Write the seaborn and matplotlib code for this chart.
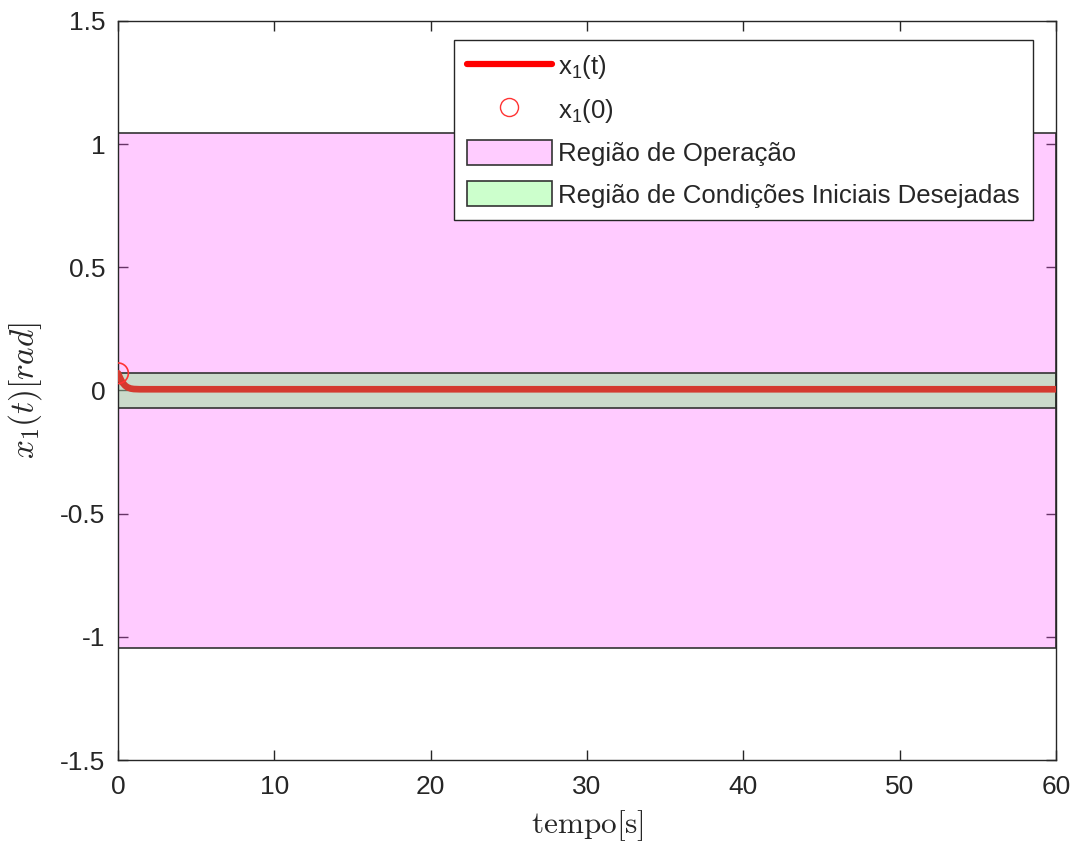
import seaborn as sns
import pandas as pd
import matplotlib as mpl
from matplotlib import pyplot as plt
from matplotlib.lines import Line2D
from matplotlib.patches import Patch

sns.set_theme(style="ticks")
plt.rcParams['font.family'] = ['Liberation Sans', 'DejaVu Sans']
plt.rcParams['mathtext.fontset'] = 'cm'

# state trajectory x1(t)
tempo = [0, 0.1, 0.2, 0.3, 0.45, 0.6, 0.8, 1.0, 1.4, 2, 5, 10, 20, 30, 40, 50, 60]
x1 = [0.07, 0.055, 0.042, 0.031, 0.02, 0.013, 0.008, 0.006, 0.005, 0.005, 0.005,
      0.005, 0.005, 0.005, 0.005, 0.005, 0.005]

# region limits
op_lim = 1.047
ci_lim = 0.07

df = pd.DataFrame({'tempo': tempo, 'x1': x1})

fig = plt.figure(figsize=(10.79, 8.49), dpi=100)
ax = fig.add_axes([0.1094, 0.1048, 0.8693, 0.8705])

ax.fill_between([0, 60], -op_lim, op_lim, facecolor=(1, 0.33, 1), alpha=0.3,
                edgecolor='none', zorder=1)
ax.fill_between([0, 60], -op_lim, op_lim, facecolor='none',
                edgecolor='#333333', linewidth=1.2, zorder=1.5)

ax.fill_between([0, 60], -ci_lim, ci_lim, facecolor=(0.33, 1, 0.33), alpha=0.3,
                edgecolor='none', zorder=2)
ax.fill_between([0, 60], -ci_lim, ci_lim, facecolor='none',
                edgecolor='#333333', linewidth=1.2, zorder=2.5)

sns.lineplot(data=df, x='tempo', y='x1', color='#d43a30', linewidth=4.8, ax=ax,
             zorder=3, legend=False)

sns.scatterplot(x=[tempo[0]], y=[x1[0]], s=220, facecolors='none',
                edgecolors=(1, 0.2, 0.2), linewidth=1.2, ax=ax, zorder=4,
                legend=False)

ax.set_xlim(0, 60)
ax.set_ylim(-1.5, 1.5)
ax.set_xticks([0, 10, 20, 30, 40, 50, 60])
ax.set_yticks([-1.5, -1, -0.5, 0, 0.5, 1, 1.5])
ax.set_yticklabels(['-1.5', '-1', '-0.5', '0', '0.5', '1', '1.5'])
ax.tick_params(direction='in', length=7, width=1, labelsize=19,
               colors='#262626', top=True, right=True)
ax.tick_params(axis='x', pad=11)
ax.tick_params(axis='y', pad=9)
for s in ax.spines.values():
    s.set_color('#262626')
    s.set_linewidth(1)

ax.set_xlabel(r'$\mathrm{tempo[s]}$', fontsize=22.5, color='#262626', labelpad=6)
ax.set_ylabel(r'$x_1(t)[rad]$', fontsize=24, color='#262626', labelpad=12)

handles = [
    Line2D([], [], color='red', linewidth=4.5),
    Line2D([], [], linestyle='none', marker='o', markersize=13,
           markerfacecolor='none', markeredgecolor=(1, 0.2, 0.2)),
    Patch(facecolor='#ffccff', edgecolor='#333333', linewidth=1.2),
    Patch(facecolor='#ccffcc', edgecolor='#333333', linewidth=1.2),
]
labels = [r'$\mathregular{x_1(t)}$', r'$\mathregular{x_1(0)}$',
          'Região de Operação', 'Região de Condições Iniciais Desejadas']
leg = ax.legend(handles, labels, loc='upper right', bbox_to_anchor=(0.975, 0.974),
                fontsize=18.5, frameon=True, fancybox=False, framealpha=1,
                edgecolor='#262626', handlelength=3.3, handleheight=1.1,
                handletextpad=0.25, borderpad=0.5, labelspacing=0.6,
                borderaxespad=0)
leg.get_frame().set_linewidth(1)
leg.set_zorder(10)

plt.savefig("out.png", dpi=100)
